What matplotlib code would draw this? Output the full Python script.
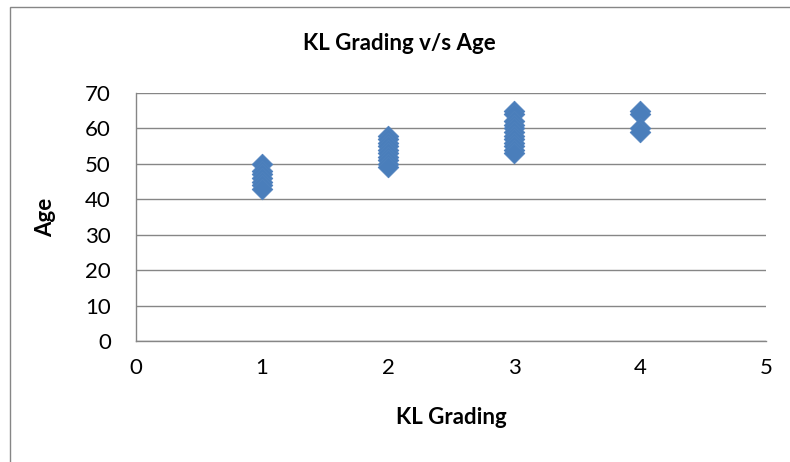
import matplotlib
matplotlib.use("Agg")
import matplotlib.pyplot as plt
from matplotlib.patches import Rectangle

# KL grade and age of each patient
grade_1 = [50, 48, 47, 46, 45, 44, 43]
grade_2 = [58, 57, 56, 55, 54, 53, 52, 51, 50, 49]
grade_3 = [65, 64, 62, 61, 60, 59, 58, 57, 56, 55, 54, 53]
grade_4 = [65, 64, 60, 59]

kl_grade = [1] * len(grade_1) + [2] * len(grade_2) + [3] * len(grade_3) + [4] * len(grade_4)
age = grade_1 + grade_2 + grade_3 + grade_4

x_ticks = [0, 1, 2, 3, 4, 5]
y_ticks = [0, 10, 20, 30, 40, 50, 60, 70]

plt.rcParams["font.family"] = ["Lato", "DejaVu Sans"]

fig = plt.figure(figsize=(7.9, 4.62), dpi=100)
# outer chart-area border
fig.patches.append(Rectangle((10 / 790, -0.01), 1.0, 1 - 7 / 462 + 0.01,
                             transform=fig.transFigure, fill=False,
                             edgecolor="#868686", linewidth=1.0))

ax = fig.add_axes([136 / 790, 1 - 341 / 462, (766 - 136) / 790, (341 - 93) / 462])
ax.scatter(kl_grade, age, marker="D", s=110, color="#4A7EBB",
           edgecolors="#4F81BD", linewidths=0.6, zorder=3, clip_on=False)

ax.set_xlim(0, 5)
ax.set_ylim(0, 70)
ax.set_xticks(x_ticks)
ax.set_yticks(y_ticks)
ax.tick_params(axis="both", length=0, labelsize=16, colors="black")
ax.tick_params(axis="x", pad=12)
ax.tick_params(axis="y", pad=18)

ax.grid(axis="y", color="#868686", linewidth=1.0)
ax.set_axisbelow(True)
for side in ["top", "right"]:
    ax.spines[side].set_visible(False)
for side in ["left", "bottom"]:
    ax.spines[side].set_color("#868686")
    ax.spines[side].set_linewidth(1.0)

fig.text(399 / 790, 1 - 44 / 462, "KL Grading v/s Age", ha="center", va="center",
         fontsize=16, fontweight="bold")
fig.text(451 / 790, 1 - 418 / 462, "KL Grading", ha="center", va="center",
         fontsize=16, fontweight="bold")
fig.text(46 / 790, 1 - 217 / 462, "Age", ha="center", va="center", rotation=90,
         fontsize=16, fontweight="bold")

fig.savefig("out.png", dpi=100)
